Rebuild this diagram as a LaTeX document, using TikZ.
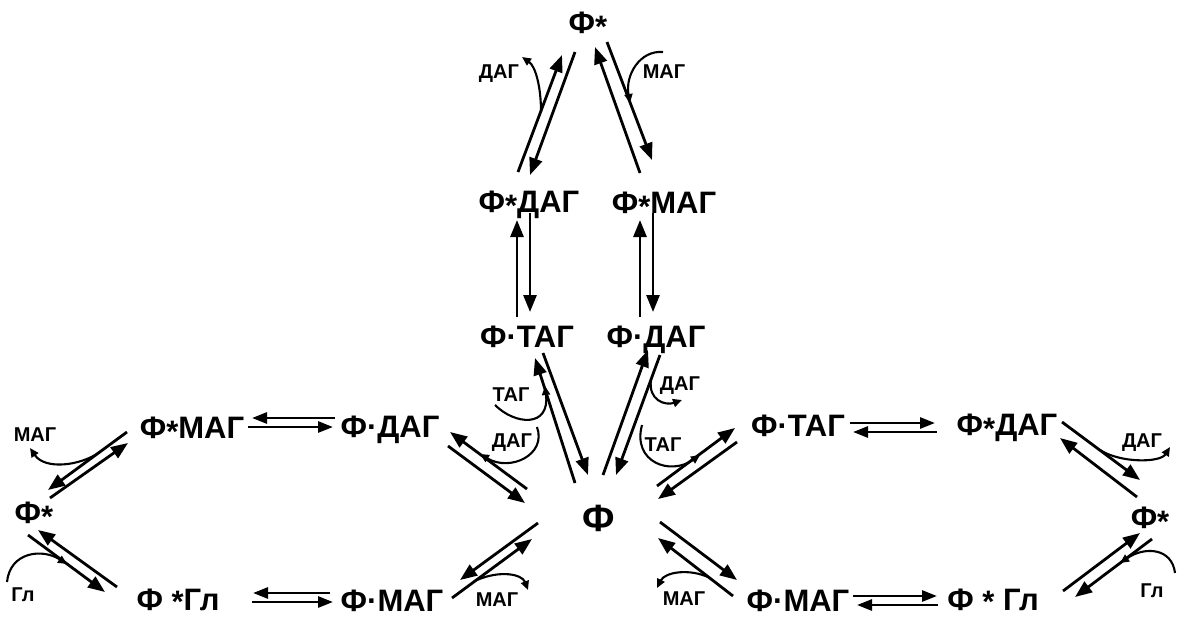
\documentclass[tikz,border=0pt]{standalone}
\usepackage{fontspec}
\setmainfont{Liberation Sans}
\usetikzlibrary{arrows.meta}
% lowered asterisk used in the species names (takes no vertical room)
\newcommand\lst{\raisebox{-4.5pt}[0pt][0pt]{*}}
\newcommand\lstb{\raisebox{-2pt}[0pt][0pt]{*}}
\begin{document}
\begin{tikzpicture}[x=1pt,y=-1pt,
  lbl/.style={font=\fontsize{31}{32}\selectfont\bfseries, inner sep=0pt, anchor=base},
  biglbl/.style={font=\fontsize{38}{40}\selectfont\bfseries, inner sep=0pt, anchor=base},
  sm/.style={font=\fontsize{20}{21}\selectfont\bfseries, inner sep=0pt},
  arr/.style={line width=2.8pt, -{Triangle[length=17pt,width=13pt]}},
  harr/.style={line width=2.8pt, -{Triangle[length=15pt,width=11pt]}},
  curv/.style={line width=2.1pt, -{Triangle[length=9pt,width=8pt]}}]
\useasboundingbox (0,0) rectangle (1177,619);

% species
\node[lbl] (top)   at (588,33)  {Ф\lst};
\node[lbl] (fdagT) at (529,212) {Ф\lst ДАГ};
\node[lbl] (fmagT) at (664,213) {Ф\lst МАГ};
\node[lbl] (ftag)  at (527,347) {Ф·ТАГ};
\node[lbl] (fdagM) at (656,347) {Ф·ДАГ};
\node[biglbl] (F)  at (599,531) {Ф};
\node[lbl] (fmagL) at (192,438) {Ф\lst МАГ};
\node[lbl] (fdagL) at (390,437) {Ф·ДАГ};
\node[lbl] (fsL)   at (34,523)  {Ф\lst};
\node[lbl] (fglL)  at (178,610) {Ф \lstb Гл};
\node[lbl] (fmagBL) at (392,611) {Ф·МАГ};
\node[lbl] (ftagR) at (798,436) {Ф·ТАГ};
\node[lbl] (fdagR) at (1007,435) {Ф\lst ДАГ};
\node[lbl] (fsR)   at (1150,528) {Ф\lst};
\node[lbl] (fmagBR) at (798,611) {Ф·МАГ};
\node[lbl] (fglR)  at (993,610) {Ф \lstb\ Гл};

% released / bound molecules
\node[sm] (lDAGt) at (499,74)  {ДАГ};
\node[sm] (lMAGt) at (664,72)  {МАГ};
\node[sm] (lTAGl) at (511,395) {ТАГ};
\node[sm] (lDAGl) at (512,443) {ДАГ};
\node[sm] (lDAGr) at (680,386) {ДАГ};
\node[sm] (lTAGr) at (663,445) {ТАГ};
\node[sm] (lMAGfl) at (35,435) {МАГ};
\node[sm] (lGlfl) at (23,595)  {Гл};
\node[sm] (lMAGbl) at (497,600) {МАГ};
\node[sm] (lMAGbr) at (684,599) {МАГ};
\node[sm] (lDAGfr) at (1142,443) {ДАГ};
\node[sm] (lGlfr) at (1152,591) {Гл};

% arrow end points
\coordinate (a1s) at (518,172); \coordinate (a1e) at (562,55);
\coordinate (a2s) at (575,52);  \coordinate (a2e) at (530,175);
\coordinate (a3s) at (607,42);  \coordinate (a3e) at (652,160);
\coordinate (a4s) at (640,173); \coordinate (a4e) at (595,47);
\coordinate (v1s) at (517,317); \coordinate (v1e) at (517,220);
\coordinate (v2s) at (530,213); \coordinate (v2e) at (530,312);
\coordinate (v3s) at (640,317); \coordinate (v3e) at (640,220);
\coordinate (v4s) at (653,213); \coordinate (v4e) at (653,312);
\coordinate (d1s) at (543,353); \coordinate (d1e) at (588,475);
\coordinate (d2s) at (575,483); \coordinate (d2e) at (535,358);
\coordinate (d3s) at (603,475); \coordinate (d3e) at (648,350);
\coordinate (d4s) at (660,355); \coordinate (d4e) at (616,475);
\coordinate (ps) at (527,489);  \coordinate (pe) at (450,432);
\coordinate (qs) at (448,446);  \coordinate (qe) at (525,503);
\coordinate (rs) at (538,523);  \coordinate (re) at (460,580);
\coordinate (ss) at (452,598);  \coordinate (se) at (532,539);
\coordinate (es) at (657,486);  \coordinate (ee) at (735,428);
\coordinate (fs) at (737,442);  \coordinate (fe) at (658,499);
\coordinate (gs) at (660,522);  \coordinate (ge) at (737,580);
\coordinate (hs) at (733,596);  \coordinate (he) at (658,538);
\coordinate (is) at (1062,422); \coordinate (ie) at (1140,480);
\coordinate (js) at (1137,497); \coordinate (je) at (1060,438);
\coordinate (ks) at (1063,591); \coordinate (ke) at (1140,533);
\coordinate (ls) at (1152,539); \coordinate (le) at (1075,597);
\coordinate (m1s) at (127,432); \coordinate (m1e) at (48,490);
\coordinate (m2s) at (50,498);  \coordinate (m2e) at (128,443);
\coordinate (ns) at (28,535);   \coordinate (ne) at (105,592);
\coordinate (os) at (117,587);  \coordinate (oe) at (38,530);
\coordinate (h1s) at (335,418); \coordinate (h1e) at (252,418);
\coordinate (h2s) at (248,427); \coordinate (h2e) at (333,427);
\coordinate (h3s) at (330,593); \coordinate (h3e) at (253,593);
\coordinate (h4s) at (252,602); \coordinate (h4e) at (333,602);
\coordinate (h5s) at (850,423); \coordinate (h5e) at (935,423);
\coordinate (h6s) at (937,432); \coordinate (h6e) at (853,432);
\coordinate (h7s) at (853,596); \coordinate (h7e) at (937,596);
\coordinate (h8s) at (938,605); \coordinate (h8e) at (857,605);

% reversible steps
\foreach \a in {a1,a2,a3,a4,v1,v2,v3,v4,d1,d2,d3,d4,p,q,r,s,e,f,g,h,i,j,k,l,m1,m2,n,o}
  \draw[arr] (\a s) -- (\a e);
\foreach \a in {h1,h2,h3,h4,h5,h6,h7,h8}
  \draw[harr] (\a s) -- (\a e);

% entry and exit of acylglycerols / glycerol
\coordinate (c1s) at (541,112);  \coordinate (c1e) at (522,57);
\draw[curv] (c1s) .. controls (541,85) and (535,66) .. (c1e);
\coordinate (c2s) at (663,52);   \coordinate (c2e) at (630,103);
\draw[curv] (c2s) .. controls (640,50) and (625,75) .. (c2e);
\coordinate (c3s) at (495,405);  \coordinate (c3e) at (545,386);
\draw[curv] (c3s) .. controls (515,425) and (550,428) .. (c3e);
\coordinate (c4s) at (537,427);  \coordinate (c4e) at (480,454);
\draw[curv] (c4s) .. controls (547,455) and (510,472) .. (c4e);
\coordinate (c5s) at (651,380);  \coordinate (c5e) at (682,400);
\draw[curv] (c5s) .. controls (648,400) and (665,406) .. (c5e);
\coordinate (c6s) at (642,425);  \coordinate (c6e) at (700,455);
\draw[curv] (c6s) .. controls (632,462) and (670,476) .. (c6e);
\coordinate (c7s) at (100,452);  \coordinate (c7e) at (30,448);
\draw[curv] (c7s) .. controls (80,466) and (45,470) .. (c7e);
\coordinate (c8s) at (7,582);    \coordinate (c8e) at (67,564);
\draw[curv] (c8s) .. controls (10,552) and (42,548) .. (c8e);
\coordinate (c9s) at (477,580);  \coordinate (c9e) at (528,590);
\draw[curv] (c9s) .. controls (500,570) and (522,574) .. (c9e);
\coordinate (c10s) at (710,578); \coordinate (c10e) at (657,588);
\draw[curv] (c10s) .. controls (690,568) and (665,572) .. (c10e);
\coordinate (c11s) at (1100,450); \coordinate (c11e) at (1170,447);
\draw[curv] (c11s) .. controls (1120,463) and (1160,463) .. (c11e);
\coordinate (c12s) at (1175,573); \coordinate (c12e) at (1120,563);
\draw[curv] (c12s) .. controls (1172,548) and (1145,546) .. (c12e);
\end{tikzpicture}
\end{document}
